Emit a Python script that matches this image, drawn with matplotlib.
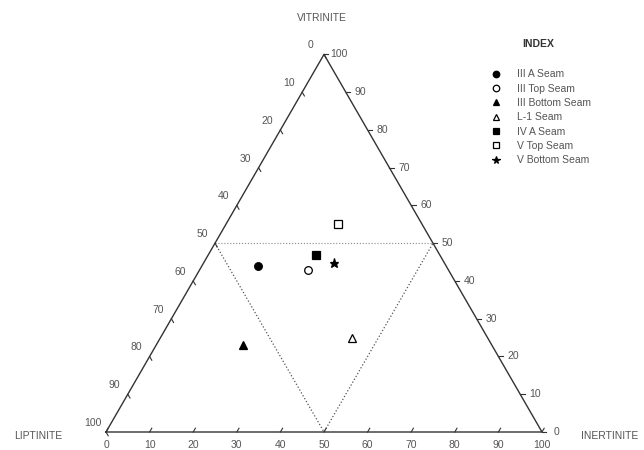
import numpy as np
import matplotlib.pyplot as plt
from matplotlib.lines import Line2D

plt.rcParams['font.family'] = ['Liberation Sans', 'DejaVu Sans']

# maceral composition (%)
seams = ['III A Seam', 'III Top Seam', 'III Bottom Seam', 'L-1 Seam',
         'IV A Seam', 'V Top Seam', 'V Bottom Seam']
vitrinite = [43.9, 42.9, 23.0, 24.9, 46.8, 55.0, 44.7]
inertinite = [12.9, 24.9, 19.9, 44.0, 24.8, 25.7, 29.9]
liptinite = [43.2, 32.2, 57.1, 31.1, 28.4, 19.3, 25.4]
markers = ['o', 'o', '^', '^', 's', 's', '*']
filled = [True, False, True, False, True, False, True]
ticks = list(range(0, 101, 10))

h = np.sqrt(3) / 2
txt = '#555555'
line = '#333333'


def tern(v, i):
    # cartesian position: inertinite to the right, vitrinite up
    return i + v / 2.0, v * h


fig = plt.figure(figsize=(6.44, 4.5), dpi=100)
ax = fig.add_axes([0, 0, 1, 1])
scale = 4.36
ax.set_xlim(-106 / scale, (644 - 106) / scale)
ax.set_ylim(-18 / scale, (450 - 18) / scale)
ax.axis('off')

# triangle frame
ax.plot([0, 100, 50, 0], [0, 0, 100 * h, 0], color=line, lw=1.0)

# dotted inner triangle through the 50% points
ax.plot([25, 75], [50 * h, 50 * h], color='#888888', lw=0.8, ls=':')
ax.plot([25, 50, 75], [50 * h, 0, 50 * h], color='#555555', lw=0.9, ls=':')

tl = 1.0
fs = 7.5
for t in ticks:
    # bottom axis: inertinite
    ax.plot([t, t + tl * 0.5], [0, tl * h], color=line, lw=0.8)
    ax.text(t, -3.0, str(t), ha='center', va='center', fontsize=fs, color=txt)
    # right axis: vitrinite
    x, y = tern(t, 100 - t)
    ax.plot([x, x + tl], [y, y], color=line, lw=0.8)
    ax.text(x + 3.4, y, str(t), ha='center', va='center', fontsize=fs, color=txt)
    # left axis: liptinite
    x, y = tern(100 - t, 0)
    ax.plot([x, x + tl * 0.5], [y, y - tl * h], color=line, lw=0.8)
    ax.text(x - 3.0, y + 2.1, str(t), ha='center', va='center', fontsize=fs, color=txt)

ax.text(49.5, 95.0, 'VITRINITE', ha='center', va='center', fontsize=7.5, color=txt)
ax.text(-15.6, -0.9, 'LIPTINITE', ha='center', va='center', fontsize=7.5, color=txt)
ax.text(108.9, -0.9, 'INERTINITE', ha='left', va='center', fontsize=7.5, color=txt)

handles = []
for k in range(len(seams)):
    x, y = tern(vitrinite[k], inertinite[k])
    ms = 6.5 if markers[k] == '*' else 5.5
    fc = 'black' if filled[k] else 'white'
    ax.plot(x, y, marker=markers[k], ms=ms, mfc=fc, mec='black', mew=0.9, ls='none')
    handles.append(Line2D([], [], marker=markers[k], ms=ms * 0.85, mfc=fc, mec='black',
                          mew=0.9, ls='none', label=seams[k]))

fig.text(538 / 644, 1 - 44 / 450, 'INDEX', ha='center', va='center',
         fontsize=7.5, fontweight='bold', color='#333333')
leg = ax.legend(handles=handles, loc='upper left', bbox_to_anchor=(487 / 644, 1 - 65 / 450),
                bbox_transform=fig.transFigure, frameon=False, fontsize=7.5,
                handlelength=1.0, handletextpad=1.45, labelspacing=0.42, borderaxespad=0)
for t in leg.get_texts():
    t.set_color(txt)

fig.savefig('out.png', dpi=100)
